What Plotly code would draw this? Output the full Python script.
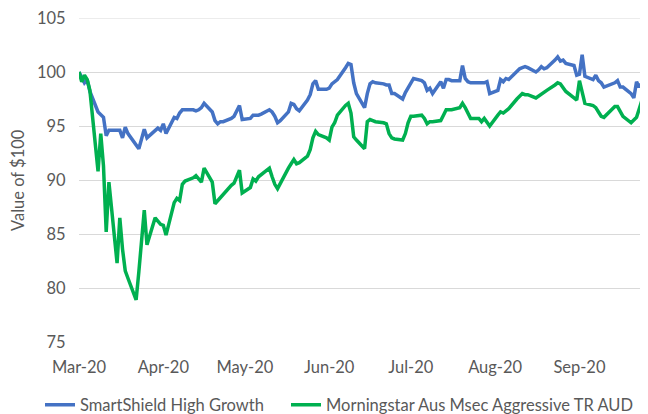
import pandas as pd
import plotly.graph_objects as go

# Business days from 2 Mar 2020 to 28 Sep 2020
dates = pd.bdate_range("2020-03-02", "2020-09-28")

smartshield = [
    100.0, 99.5, 99.0, 99.3, 98.2,
    96.3, 96.0, 95.8, 94.1, 94.6,
    94.6, 94.6, 93.9, 94.9, 94.3,
    93.2, 92.9, 93.8, 94.7, 93.9,
    94.6, 94.8, 94.6, 95.2, 94.3,
    95.8, 95.7, 96.2, 96.5, 96.5,
    96.5, 96.4, 96.5, 96.7, 97.1,
    96.3, 95.5, 95.2, 95.4, 95.4,
    95.7, 95.9, 96.4, 96.9, 95.6,
    95.7, 96.0, 96.0, 96.0, 96.1,
    96.5, 96.3, 95.9, 95.3, 95.5,
    96.3, 97.1, 97.0, 96.6, 96.4,
    97.4, 97.9, 98.9, 99.2, 98.4,
    98.4, 98.5, 98.9, 99.1, 99.3,
    100.4, 100.8, 100.7, 99.0, 98.0,
    96.7, 98.0, 98.9, 99.1, 99.0,
    98.9, 98.8, 98.8, 98.0, 98.0,
    97.5, 98.1, 98.5, 98.9, 99.4,
    99.2, 99.0, 98.3, 98.5, 98.0,
    99.1, 98.5, 99.3, 99.3, 99.2,
    99.2, 100.6, 99.4, 99.1, 99.0,
    99.0, 99.0, 99.0, 99.1, 98.0,
    98.3, 99.3, 99.1, 99.4, 99.3,
    100.0, 100.3, 100.4, 100.5, 100.4,
    100.0, 100.2, 100.5, 100.3, 100.4,
    101.1, 101.4, 101.0, 101.1, 100.8,
    100.6, 99.7, 99.8, 101.6, 99.6,
    99.3, 99.7, 99.2, 99.0, 98.6,
    98.9, 99.0, 99.2, 98.6, 98.6,
    98.0, 97.6, 99.1, 98.6, 99.0,
    99.5,
]

morningstar = [
    100.0, 99.1, 99.7, 99.3, 98.3,
    90.8, 94.3, 91.3, 85.2, 89.8,
    82.3, 86.5, 83.6, 81.6, 80.9,
    78.9, 81.5, 84.5, 87.2, 84.0,
    86.5, 86.2, 85.9, 85.8, 84.9,
    87.9, 88.3, 88.1, 89.6, 89.9,
    90.2, 90.4, 90.1, 89.8, 91.1,
    89.8, 87.8, 88.1, 88.3, 88.6,
    89.5, 89.7, 90.3, 90.9, 88.8,
    89.3, 90.1, 89.9, 90.3, 90.5,
    91.1, 90.3, 89.6, 89.2, 89.7,
    91.1, 91.5, 91.9, 91.5, 91.6,
    92.2, 92.8, 93.9, 94.5, 94.2,
    93.9, 93.7, 94.9, 95.3, 96.0,
    96.9, 97.1, 96.2, 94.0, 93.7,
    92.9, 95.4, 95.6, 95.5, 95.4,
    95.3, 95.2, 94.3, 93.9, 93.8,
    93.7, 94.3, 95.3, 95.9, 95.9,
    96.0, 95.7, 95.2, 95.4, 95.4,
    95.5, 96.0, 96.5, 96.5, 96.5,
    96.7, 97.1, 96.7, 96.1, 95.7,
    95.7, 95.4, 95.7, 95.3, 95.0,
    96.0, 96.3, 96.2, 96.4, 96.6,
    97.5, 97.8, 98.0, 97.9, 97.9,
    97.6, 97.8, 97.9, 98.1, 98.3,
    98.8, 99.0, 98.9, 98.6, 98.2,
    97.6, 97.4, 99.2, 98.0, 97.1,
    96.9, 96.7, 96.3, 95.9, 95.8,
    96.5, 96.8, 96.8, 96.3, 95.9,
    95.3, 95.5, 95.8, 96.6, 97.4,
    98.2,
]

series_names = ["SmartShield High Growth", "Morningstar Aus Msec Aggressive TR AUD"]
series_colors = ["#4472C4", "#00B050"]

tick_dates = ["2020-03-02", "2020-04-02", "2020-05-02", "2020-06-02",
              "2020-07-02", "2020-08-02", "2020-09-02"]
tick_labels = ["Mar-20", "Apr-20", "May-20", "Jun-20", "Jul-20", "Aug-20", "Sep-20"]
y_ticks = [75, 80, 85, 90, 95, 100, 105]

FONT = "Lato"
GREY = "#595959"
GRID = "#D9D9D9"
FS = 16.5

# The page body adds an 8px margin, so the figure is sized/offset to compensate.
W, H = 640, 406
ML, MT, MR, MB = 71, 10, 0, 72
PW, PH = W - ML - MR, H - MT - MB

legend_names = ["legend", "legend2"]
legend_left = [40, 286]          # page px of each legend block
LEG_Y = 397                      # figure px of legend row centre

fig = go.Figure()
for name, vals, col, lg in zip(series_names, [smartshield, morningstar], series_colors, legend_names):
    fig.add_trace(go.Scatter(x=dates, y=vals, mode="lines", name=name, legend=lg,
                             line=dict(color=col, width=3.5)))

legend_common = dict(orientation="h", xanchor="left", yanchor="middle",
                     y=(PH - (LEG_Y - MT)) / PH,
                     font=dict(family=FONT, size=FS, color=GREY), itemwidth=30,
                     bgcolor="rgba(0,0,0,0)")

fig.update_layout(
    width=W, height=H,
    margin=dict(l=ML, r=MR, t=MT, b=MB, autoexpand=False),
    paper_bgcolor="white", plot_bgcolor="white",
    font=dict(family=FONT, size=FS, color=GREY),
    showlegend=True,
    legend=dict(x=(legend_left[0] - 8 - ML) / PW, **legend_common),
    legend2=dict(x=(legend_left[1] - 8 - ML) / PW, **legend_common),
    xaxis=dict(type="date", range=["2020-03-02", "2020-09-27 05:00"],
               tickvals=tick_dates, ticktext=tick_labels,
               showgrid=False, zeroline=False, showline=False,
               ticks="outside", ticklen=10, tickcolor="rgba(0,0,0,0)",
               ticklabeloverflow="allow",
               tickfont=dict(family=FONT, size=FS, color=GREY)),
    yaxis=dict(range=[75, 105], tickvals=y_ticks,
               showgrid=True, gridcolor=GRID, gridwidth=1,
               zeroline=False, showline=False,
               ticks="outside", ticklen=9, tickcolor="rgba(0,0,0,0)",
               ticklabeloverflow="allow",
               tickfont=dict(family=FONT, size=FS, color=GREY)),
    shapes=[dict(type="line", xref="paper", yref="y", x0=0, x1=1,
                 y0=y_ticks[-1], y1=y_ticks[-1], line=dict(color=GRID, width=1), layer="below")],
    annotations=[dict(text="Value of $100", textangle=-90, xref="paper", yref="paper",
                      x=(10 - ML) / PW, y=0.5, xanchor="center", yanchor="middle",
                      showarrow=False, font=dict(family=FONT, size=FS, color=GREY))],
)

fig.write_html("out.html")
